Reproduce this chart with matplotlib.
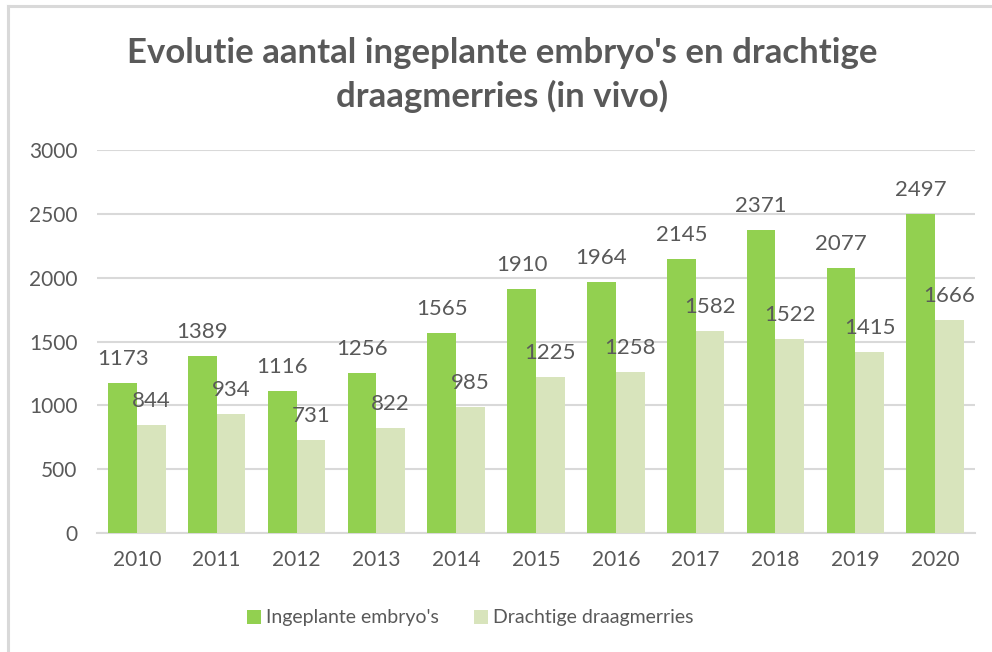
import matplotlib
matplotlib.use("Agg")
import matplotlib.pyplot as plt
from matplotlib.lines import Line2D
from matplotlib.patches import Patch
import numpy as np

years = ["2010", "2011", "2012", "2013", "2014", "2015", "2016", "2017", "2018", "2019", "2020"]
embryos = [1173, 1389, 1116, 1256, 1565, 1910, 1964, 2145, 2371, 2077, 2497]
merries = [844, 934, 731, 822, 985, 1225, 1258, 1582, 1522, 1415, 1666]
series_names = ["Ingeplante embryo's", "Drachtige draagmerries"]
title = "Evolutie aantal ingeplante embryo's en drachtige\ndraagmerries (in vivo)"
yticks = [0, 500, 1000, 1500, 2000, 2500, 3000]

plt.rcParams['font.family'] = ['Lato', 'DejaVu Sans']
TXT = "#595959"
GRID = "#D9D9D9"
C1 = "#92D050"
C2 = "#D8E4BC"

W, H = 992, 652
fig = plt.figure(figsize=(W / 100, H / 100), dpi=100)
ax = fig.add_axes([97 / W, 1 - 533 / H, (975 - 97) / W, (533 - 150) / H])

x = np.arange(len(years))
bw = 0.36
b1 = ax.bar(x - bw / 2, embryos, bw, color=C1, label=series_names[0], zorder=3)
b2 = ax.bar(x + bw / 2, merries, bw, color=C2, label=series_names[1], zorder=3)

for bars, vals in ((b1, embryos), (b2, merries)):
    for r, v in zip(bars, vals):
        ax.annotate(str(v), (r.get_x() + r.get_width() / 2, v),
                    xytext=(0, 18), textcoords='offset pixels',
                    ha='center', va='baseline', fontsize=16, color=TXT, zorder=4)

ax.set_xlim(-0.5, len(years) - 0.5)
ax.set_ylim(0, 3000)
ax.set_yticks(yticks)
ax.set_yticklabels([str(t) for t in yticks])
ax.set_xticks(x)
ax.set_xticklabels(years)
ax.tick_params(axis='both', length=0, labelsize=15, labelcolor=TXT)
ax.tick_params(axis='y', pad=14)
ax.tick_params(axis='x', pad=12)
ax.grid(axis='y', color=GRID, linewidth=1.5, zorder=0)
for s in ['top', 'right', 'left']:
    ax.spines[s].set_visible(False)
ax.spines['bottom'].set_color(GRID)
ax.spines['bottom'].set_linewidth(1.5)

fig.text(502 / W, 1 - 75 / H, title, ha='center', va='center', fontsize=25,
         fontweight='bold', color=TXT, linespacing=1.4)

handles = [Patch(facecolor=C1, edgecolor='none'), Patch(facecolor=C2, edgecolor='none')]
fig.legend(handles, series_names, loc='center', bbox_to_anchor=(470 / W, 1 - 618 / H),
           ncol=2, frameon=False, fontsize=14, labelcolor=TXT,
           handlelength=0.72, handleheight=0.72, handletextpad=0.25, columnspacing=1.8)

# chart border
fig.add_artist(Line2D([8 / W, 8 / W], [0, 1 - 6 / H], transform=fig.transFigure, color=GRID, linewidth=2.2))
fig.add_artist(Line2D([8 / W, 1], [1 - 6 / H, 1 - 6 / H], transform=fig.transFigure, color=GRID, linewidth=2.2))

fig.savefig("out.png", dpi=100, facecolor="white")
